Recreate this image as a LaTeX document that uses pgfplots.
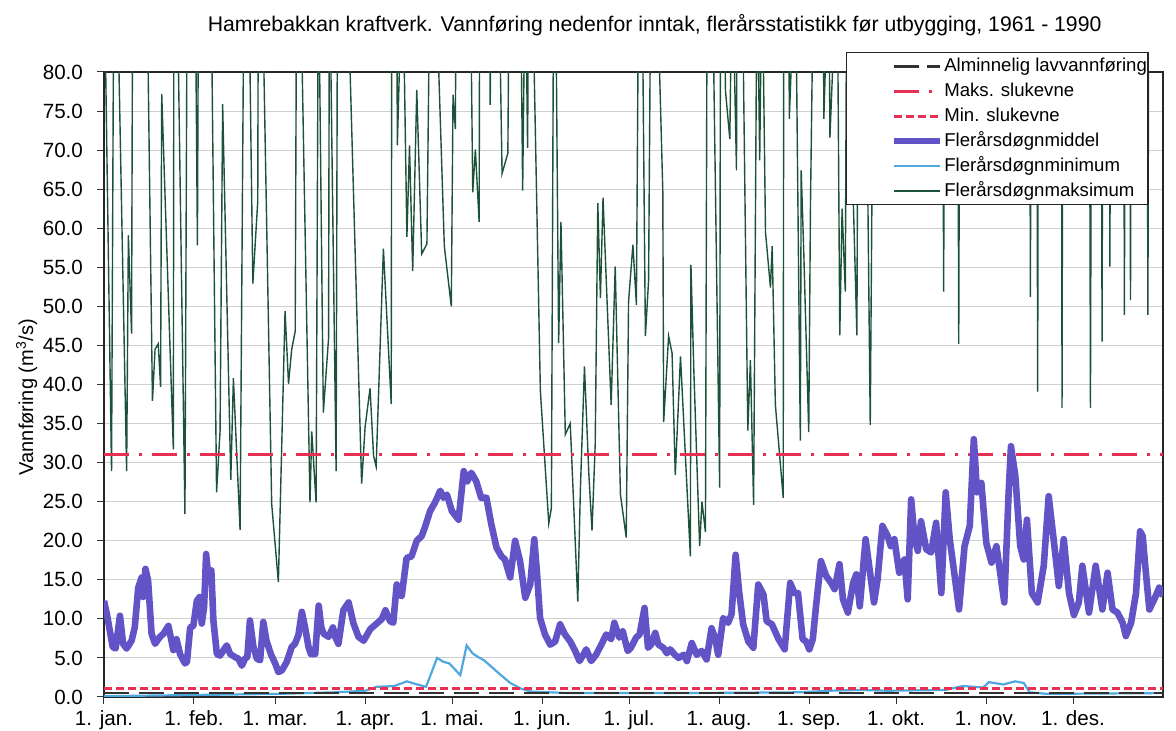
\documentclass[border=0pt]{standalone}
\usepackage{pgfplots}
\pgfplotsset{compat=1.18}
\usepackage{fontspec}
\setmainfont{Liberation Sans}
\definecolor{meancol}{RGB}{98,84,198}
\definecolor{mincol}{RGB}{78,168,222}
\definecolor{maxcol}{RGB}{28,82,58}
\definecolor{slukred}{RGB}{232,48,82}
\definecolor{gridgray}{RGB}{208,208,208}
\definecolor{almcol}{RGB}{50,50,50}
\begin{document}
\begin{tikzpicture}
\begin{axis}[
  scale only axis,
  width=529.5pt, height=312.5pt,
  xmin=0, xmax=365, ymin=0, ymax=80,
  xtick={0,31,59,90,120,151,181,212,243,273,304,334},
  xticklabels={1. jan.,1. feb.,1. mar.,1. apr.,1. mai.,1. jun.,1. jul.,1. aug.,1. sep.,1. okt.,1. nov.,1. des.},
  ytick={0,5,...,80},
  /pgf/number format/fixed,
  /pgf/number format/fixed zerofill,
  /pgf/number format/precision=1,
  /pgf/number format/assume math mode=true,
  tick pos=left,
  tick align=outside,
  major tick length=3.5pt,
  tick style={black!80, line width=0.5pt},
  ticklabel style={font=\fontsize{10.3}{12}\selectfont},
  yticklabel style={xshift=-3.5pt},
  ymajorgrids,
  grid style={gridgray, line width=0.5pt},
  axis line style={black!85, line width=0.7pt},
  title={Hamrebakkan kraftverk. Vannføring nedenfor inntak, flerårsstatistikk før utbygging, 1961 - 1990},
  title style={at={(axis description cs:0.52,1)}, anchor=base, yshift=14pt, font=\fontsize{10.6}{12}\selectfont},
  ylabel={Vannføring (m\textsuperscript{3}/s)},
  ylabel style={at={(axis description cs:-0.073,0.48)}, anchor=center, font=\fontsize{10}{12}\selectfont},
  legend style={at={(axis description cs:0.7007,1.032)}, anchor=north west, draw=black!85, line width=0.7pt, fill=white,
    inner xsep=0pt, inner ysep=0.5pt, row sep=0pt, font=\fontsize{9.3}{12}\selectfont,
    nodes={text height=7.5pt, text depth=2pt, inner ysep=1.5pt, inner xsep=0.5pt}},
  legend cell align=left,
  legend image code/.code={\path (0pt,0pt) (45pt,0pt); \draw[#1] (22pt,0pt) -- (45pt,0pt);},
]
% Flerårsdøgnmaksimum (drawn first)
\addplot[maxcol, line width=0.7pt, forget plot] table {
x y
0 95
2.6 28.9
3.4 95
4.4 95
7.8 28.9
8.4 59.1
9.5 46.5
9.9 95
14.7 95
16.7 37.9
17.6 44.5
18.7 45.2
19.5 39.7
19.9 77.2
23.9 31.7
24.1 95
25.1 95
27.9 23.4
28.7 95
31.4 95
32.2 57.8
32.6 95
36.8 95
38.8 26.2
40 34.0
40.9 75.9
43.7 27.8
44.6 40.8
46.9 21.4
48.3 95
49.8 95
51.3 52.9
53 63.5
53.2 95
54.4 95
57.8 24.7
60.1 14.7
62.4 49.4
63.6 40.1
64.7 44.5
65.9 46.8
66.4 95
67.6 95
71 24.9
71.6 34.0
73.1 24.9
73.9 95
75.6 36.4
77.4 45.9
77.7 95
80 28.9
80.5 95
83.7 95
88.8 27.3
90 34.6
91.7 39.5
92.9 30.9
93.8 29.5
96.3 57.4
99 37.5
99.2 95
100.9 95
101.1 70.6
102.9 95
104.4 58.9
105.3 70.6
106.4 54.5
107.8 77.7
109.5 56.7
111.3 58.0
112.4 95
114.1 95
117.3 57.7
119.7 50.0
120.3 77.1
121.1 72.7
121.4 95
126.2 95
127.1 64.6
128 70.1
129.3 60.8
129.5 95
132.9 95
133.1 75.8
133.7 95
136 95
137.2 67.0
139.2 69.6
139.7 95
143.5 95
144.3 64.8
145.2 95
146 70.3
146.4 95
147.5 95
150.4 39.2
153.3 22.2
154.2 24.2
155 95
155.6 95
156.7 45.3
157.5 60.8
159 33.6
160.7 35.0
163.3 12.2
164.2 26.6
165.6 42.3
167.1 28.6
168.2 21.3
169.3 32.3
170.2 63.2
171.1 51.1
172 63.9
173.4 50.6
174.8 37.4
176.2 55.1
178 25.9
180 20.4
180.8 50.6
182.3 57.9
183.5 50.2
184.3 95
185.4 95
186.6 46.2
187.7 53.3
188.5 95
190.4 95
192.6 64.8
192.9 35.2
194.6 46.2
195.8 44.0
196.9 28.4
198.7 43.6
202.1 18.0
202.3 55.3
203.3 41.8
205.3 19.3
206.1 25.0
207.3 21.1
207.9 95
209.6 95
212.2 26.8
212.5 95
213.6 95
214.2 77.6
215.7 71.4
216.5 95
218 67.4
218.2 95
219.9 95
221.9 34.1
222.8 43.1
223.9 24.6
225.1 95
226 68.7
226.8 95
228 59.5
229.7 52.4
230.3 57.7
231.4 37.4
234.1 25.5
234.3 95
236 95
236.2 74
238.3 95
240 32.8
240.3 67.4
241.2 56.8
242.9 33.9
243.5 63.0
244.6 95
247.9 95
248.1 74
249.8 95
250.2 71.6
252.7 95
253.6 46.3
254.4 62.5
255.5 51.9
256 95
259.5 46.3
260 95
262.4 95
264.1 34.8
265.3 95
289 95
289.4 51.9
289.8 95
294.2 95
294.6 45.2
295 95
319 95
319.3 51.2
319.6 95
321.5 95
321.8 39.1
322.1 95
330 95
330.2 37.0
330.5 95
339.6 95
340 37.0
340.4 95
343.7 95
344 45.5
344.3 95
346.4 95
346.7 55.1
347 95
351.4 95
351.7 48.9
352 95
353.5 95
353.8 50.8
354.1 95
359.5 95
359.8 48.9
360.1 95
365 95
};
% Maks. slukevne
\addplot[slukred, line width=1.4pt, dash pattern=on 12.5pt off 5pt on 1.5pt off 5pt, forget plot] coordinates {(0,31.0) (365,31.0)};
% Flerårsdøgnminimum
\addplot[mincol, line width=1.1pt, forget plot] table {
x y
0 0.1
20 0.2
40 0.3
60 0.4
80 0.6
90 0.8
94 1.3
100 1.4
104.4 2.0
108 1.6
111 1.3
114.8 5.0
117 4.5
119 4.3
122.8 2.8
125 6.6
127 5.6
129 5.1
131 4.7
136.5 2.9
140 1.8
143.5 1.1
147 0.7
160 0.5
200 0.5
240 0.6
250 0.8
260 0.9
270 0.8
290 0.9
296 1.4
300 1.3
303 1.2
305 1.9
310 1.6
314 2.0
317 1.8
319 0.6
325 0.4
365 0.5
};
% Alminnelig lavvannføring
\addplot[almcol, line width=1.4pt, dash pattern=on 12.5pt off 5pt, forget plot] coordinates {(0,0.5) (365,0.5)};
% Min. slukevne
\addplot[slukred, line width=1.4pt, dash pattern=on 4pt off 2pt, forget plot] coordinates {(0,1.1) (365,1.1)};
% Flerårsdøgnmiddel
\addplot[meancol, line width=3.3pt, line join=round, forget plot] table {
x y
0 12.3
1 10.6
3 6.4
4 6.2
5.5 10.4
6.6 6.8
7.8 6.2
9.5 7.2
10.6 8.9
11.8 14.0
13 15.3
13.5 12.8
14.3 16.4
15.2 14.9
16.4 8.1
17.6 6.8
19.3 7.7
20.5 8.1
22.2 9.1
23.9 6.0
25 7.4
26.2 5.5
27.9 4.3
28.6 4.5
29.7 8.9
30.8 9.1
32 12.3
33 12.8
33.7 9.4
34.5 11.5
35.2 18.3
36 15.3
37 16.2
37.7 9.8
38.9 5.5
40 5.3
42.3 6.6
43.5 5.5
45.2 5.1
46.3 4.9
47.5 4.0
48.6 4.9
49.4 5.1
50.3 9.8
51.5 6.4
52.7 4.9
53.8 4.7
54.9 9.6
56 7.2
57.5 5.5
59 4.3
60.1 3.2
61.3 3.4
63 4.5
64.7 6.4
65.8 6.8
67 7.9
68.2 10.9
69.3 8.9
70.5 6.4
71.3 5.5
72.8 5.5
74 11.7
74.9 8.9
75.7 8.1
77.4 7.7
78.9 8.9
79.7 7.7
80.8 6.8
82.5 11.1
84.3 12.1
86 9.4
87.7 7.7
89.5 7.2
91.8 8.7
94 9.4
95.8 10.0
97 11.1
98.6 9.7
99.7 9.5
100.9 14.4
102 13.1
102.6 12.9
104.3 17.8
106 18.0
107.8 20.0
109.5 20.6
110.6 21.7
112.4 23.8
114.1 24.9
115.9 26.4
117 25.5
118.2 25.9
119.9 23.8
122.2 22.7
124 28.9
125.2 27.6
126.6 28.7
128.3 27.6
130 25.5
131.8 25.5
133.5 22.1
135.3 19.1
137 18.0
138.2 17.6
140 15.3
141.7 20.0
143.4 17.4
145.2 12.7
146.9 14.4
148.3 20.2
149.2 16.1
150.3 10.1
152 8.0
153.8 6.7
155.5 7.1
157.2 9.3
158.9 8.0
160.7 7.1
162.4 5.9
163.9 4.6
165.2 5.4
166.2 6.1
167.9 4.6
169.6 5.4
171.4 6.7
173.1 8.0
174.8 7.4
175.9 9.5
177.6 7.6
178.8 8.4
180.5 5.9
181.6 6.3
183.4 7.6
184.6 8.0
186.3 11.4
187.5 6.3
188.6 6.7
190 8.2
191.1 6.7
192.8 6.3
194 5.6
195.1 6.1
196.8 5.4
198 5.0
199.8 5.4
200.9 4.6
202.6 6.9
204.3 5.4
206 5.9
207.7 4.8
209.4 8.8
210.6 7.6
211.7 5.4
213.4 10.1
215.1 9.5
216.3 10.6
217.7 18.2
218.9 13.5
220.3 9.3
222.1 7.1
223.8 6.3
225.5 14.4
227.3 13.1
228.4 9.7
230.2 9.3
232.5 7.4
234.6 6.1
236.5 14.6
238 13.3
239.2 13.3
240.8 7.4
242 7.1
243.1 6.1
244.3 7.4
245.4 11.6
247.1 17.4
248.9 15.5
250.6 14.6
251.8 13.8
253.5 17.0
254.7 12.5
256.4 10.8
258.2 14.6
259.3 15.7
260.5 11.6
262.5 20.2
263.9 16.3
265.4 12.1
266.6 15.0
268.3 21.9
270.1 20.6
271.2 19.3
272.4 20.2
274.1 15.9
275.9 17.6
277 12.5
278.2 25.3
279.4 20.2
280.5 18.7
281.6 22.5
283.4 18.9
285.1 18.5
286.8 22.3
288.6 13.3
290.1 26.2
291.5 20.2
293.2 15.5
294.7 11.2
296.6 19.3
298.4 21.9
299.8 33.0
300.9 26.2
302.4 27.4
304.1 19.7
305.9 17.2
307.6 19.3
310.3 12.1
311.8 26.2
312.6 32.1
314.1 28.3
315.8 19.3
317 17.6
318.1 22.7
319.8 13.3
321.8 12.1
323.9 16.8
325.6 25.7
327.3 20.2
329.1 14.2
330.8 20.2
332.6 13.3
334.3 10.5
336 12.1
337.2 16.8
339.5 10.8
341.8 16.8
344.1 11.2
345.9 15.9
347.6 11.2
349.3 10.8
351.1 9.5
352.2 7.8
354 9.5
355.7 13.3
357.1 21.2
358 20.6
359.1 15.9
360.3 11.2
362 12.5
363.7 14.0
365 12.9
};
% legend, in the reference's order
\addlegendimage{almcol, line width=1.4pt, dash pattern=on 12.5pt off 4pt}
\addlegendentry{Alminnelig lavvannføring}
\addlegendimage{slukred, line width=1.4pt, dash pattern=on 12.5pt off 5pt on 1.5pt off 5pt}
\addlegendentry{Maks. slukevne}
\addlegendimage{slukred, line width=1.4pt, dash pattern=on 4pt off 2pt}
\addlegendentry{Min. slukevne}
\addlegendimage{meancol, line width=3.3pt}
\addlegendentry{Flerårsdøgnmiddel}
\addlegendimage{mincol, line width=1.1pt}
\addlegendentry{Flerårsdøgnminimum}
\addlegendimage{maxcol, line width=0.7pt}
\addlegendentry{Flerårsdøgnmaksimum}
\coordinate (bbbl) at (axis description cs:-0.0982,-0.0544);
\coordinate (bbtr) at (axis description cs:1.0123,1.1152);
\end{axis}
\pgfresetboundingbox
\useasboundingbox (bbbl) rectangle (bbtr);
\end{tikzpicture}
\end{document}
